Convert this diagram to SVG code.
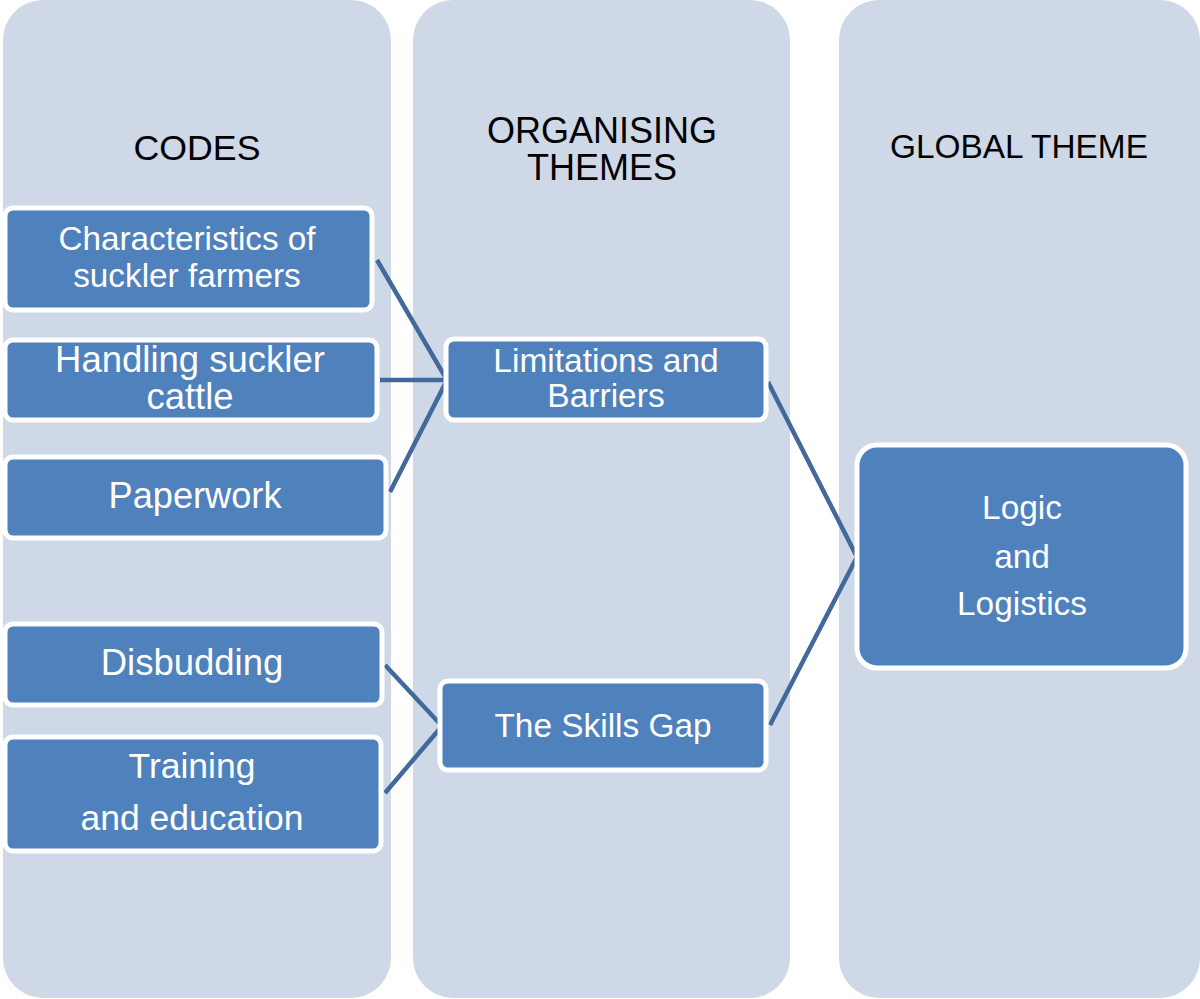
<svg xmlns="http://www.w3.org/2000/svg" width="1200" height="999" viewBox="0 0 1200 999">
<style>
.col{fill:#cfd8e7}
.box{fill:#4f81bd;stroke:#ffffff;stroke-width:5}
.lbl{fill:#ffffff;font-family:"Liberation Sans",Arial,sans-serif;text-anchor:middle}
.hdr{fill:#000000;font-family:"Liberation Sans",Arial,sans-serif;text-anchor:middle}
.con{stroke:#41699c;stroke-width:4.5;fill:none;stroke-linejoin:miter}
</style>
<rect width="1200" height="999" fill="#ffffff"/>
<g id="columns">
<rect class="col" x="3" y="0" width="388" height="998" rx="40"/>
<rect class="col" x="413" y="0" width="377" height="998" rx="40"/>
<rect class="col" x="839" y="0" width="361" height="998" rx="40"/>
</g>
<g id="headers">
<text class="hdr" x="197" y="160" font-size="35.7">CODES</text>
<text class="hdr" x="602" y="143" font-size="36">ORGANISING</text>
<text class="hdr" x="602" y="180" font-size="36">THEMES</text>
<text class="hdr" x="1019" y="158" font-size="33.4">GLOBAL THEME</text>
</g>
<g id="connectors">
<polyline class="con" points="377,260 447,380 390,492"/>
<line class="con" x1="380" y1="380" x2="447" y2="380"/>
<polyline class="con" points="385,665 442,726 385,793"/>
<polyline class="con" points="768,382 857,557 770,725"/>
</g>
<g id="node-characteristics">
<rect class="box" x="5" y="208" width="367" height="102" rx="8"/>
<text class="lbl" x="187" y="250" font-size="33.3">Characteristics of</text>
<text class="lbl" x="187" y="287" font-size="33.3">suckler farmers</text>
</g>
<g id="node-handling">
<rect class="box" x="5" y="340" width="372" height="80" rx="8"/>
<text class="lbl" x="190" y="372" font-size="36.5">Handling suckler</text>
<text class="lbl" x="190" y="409" font-size="36.5">cattle</text>
</g>
<g id="node-paperwork">
<rect class="box" x="5" y="457" width="381" height="81" rx="8"/>
<text class="lbl" x="195" y="508" font-size="36.2">Paperwork</text>
</g>
<g id="node-disbudding">
<rect class="box" x="5" y="624" width="377" height="81" rx="8"/>
<text class="lbl" x="192" y="675" font-size="36.5">Disbudding</text>
</g>
<g id="node-training">
<rect class="box" x="5" y="737" width="376" height="114" rx="8"/>
<text class="lbl" x="192" y="778" font-size="35.5">Training</text>
<text class="lbl" x="192" y="830" font-size="35.5">and education</text>
</g>
<g id="node-limitations">
<rect class="box" x="446" y="339" width="320" height="81" rx="8"/>
<text class="lbl" x="606" y="372" font-size="33.5">Limitations and</text>
<text class="lbl" x="606" y="407" font-size="33.5">Barriers</text>
</g>
<g id="node-skills">
<rect class="box" x="440" y="681" width="326" height="89" rx="8"/>
<text class="lbl" x="603" y="737" font-size="33.4">The Skills Gap</text>
</g>
<g id="node-logic">
<rect class="box" x="857" y="445" width="329" height="223" rx="20"/>
<text class="lbl" x="1022" y="519" font-size="33.4">Logic</text>
<text class="lbl" x="1022" y="568" font-size="33.4">and</text>
<text class="lbl" x="1022" y="615" font-size="33.4">Logistics</text>
</g>
</svg>
